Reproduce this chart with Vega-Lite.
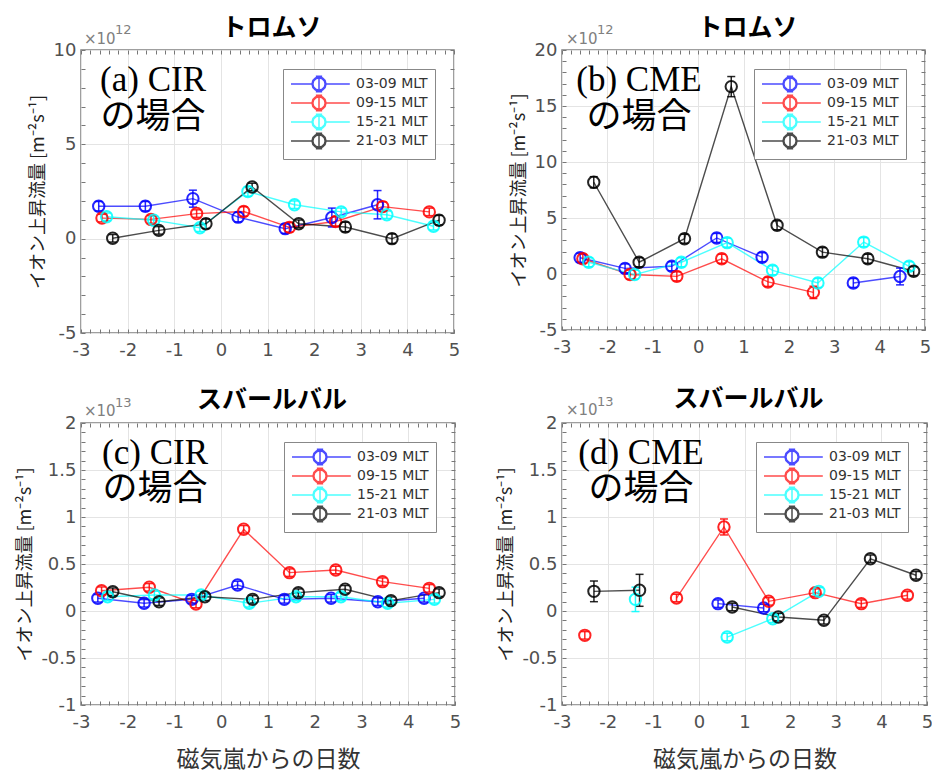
{
  "$schema": "https://vega.github.io/schema/vega-lite/v6.json",
  "background": "white",
  "padding": {"left": 16, "top": 15, "right": 0, "bottom": 0},
  "datasets": {
    "pts": [
      {"p":"a","g":"03-09 MLT","x":-2.62,"y":1.72,"e":0.25},
      {"p":"a","g":"03-09 MLT","x":-1.62,"y":1.72,"e":0.25},
      {"p":"a","g":"03-09 MLT","x":-0.6,"y":2.12,"e":0.45},
      {"p":"a","g":"03-09 MLT","x":0.37,"y":1.14,"e":0.25},
      {"p":"a","g":"03-09 MLT","x":1.38,"y":0.53,"e":0.25},
      {"p":"a","g":"03-09 MLT","x":2.38,"y":1.12,"e":0.5},
      {"p":"a","g":"03-09 MLT","x":3.36,"y":1.8,"e":0.75},
      {"p":"a","g":"09-15 MLT","x":-2.55,"y":1.09,"e":0.2},
      {"p":"a","g":"09-15 MLT","x":-1.5,"y":1.02,"e":0.2},
      {"p":"a","g":"09-15 MLT","x":-0.52,"y":1.33,"e":0.2},
      {"p":"a","g":"09-15 MLT","x":0.49,"y":1.44,"e":0.25},
      {"p":"a","g":"09-15 MLT","x":1.47,"y":0.6,"e":0.25},
      {"p":"a","g":"09-15 MLT","x":2.46,"y":0.91,"e":0.25},
      {"p":"a","g":"09-15 MLT","x":3.47,"y":1.7,"e":0.25},
      {"p":"a","g":"09-15 MLT","x":4.47,"y":1.42,"e":0.2},
      {"p":"a","g":"15-21 MLT","x":-2.45,"y":1.16,"e":0.2},
      {"p":"a","g":"15-21 MLT","x":-1.44,"y":0.98,"e":0.2},
      {"p":"a","g":"15-21 MLT","x":-0.45,"y":0.58,"e":0.2},
      {"p":"a","g":"15-21 MLT","x":0.58,"y":2.5,"e":0.25},
      {"p":"a","g":"15-21 MLT","x":1.58,"y":1.8,"e":0.2},
      {"p":"a","g":"15-21 MLT","x":2.58,"y":1.42,"e":0.2},
      {"p":"a","g":"15-21 MLT","x":3.56,"y":1.27,"e":0.2},
      {"p":"a","g":"15-21 MLT","x":4.56,"y":0.66,"e":0.2},
      {"p":"a","g":"21-03 MLT","x":-2.32,"y":0.02,"e":0.2},
      {"p":"a","g":"21-03 MLT","x":-1.33,"y":0.44,"e":0.2},
      {"p":"a","g":"21-03 MLT","x":-0.32,"y":0.79,"e":0.25},
      {"p":"a","g":"21-03 MLT","x":0.67,"y":2.74,"e":0.2},
      {"p":"a","g":"21-03 MLT","x":1.67,"y":0.79,"e":0.2},
      {"p":"a","g":"21-03 MLT","x":2.67,"y":0.62,"e":0.25},
      {"p":"a","g":"21-03 MLT","x":3.67,"y":0.0,"e":0.25},
      {"p":"a","g":"21-03 MLT","x":4.68,"y":0.98,"e":0.25},

      {"p":"b","g":"03-09 MLT","x":-2.6,"y":1.45,"e":0.4},
      {"p":"b","g":"03-09 MLT","x":-1.61,"y":0.5,"e":0.4},
      {"p":"b","g":"03-09 MLT","x":-0.58,"y":0.69,"e":0.4},
      {"p":"b","g":"03-09 MLT","x":0.41,"y":3.22,"e":0.4},
      {"p":"b","g":"03-09 MLT","x":1.41,"y":1.5,"e":0.4},
      {"p":"b","g":"03-09 MLT","x":2.41,"y":null,"e":null},
      {"p":"b","g":"03-09 MLT","x":3.42,"y":-0.8,"e":0.4},
      {"p":"b","g":"03-09 MLT","x":4.45,"y":-0.22,"e":0.75},
      {"p":"b","g":"09-15 MLT","x":-2.54,"y":1.36,"e":0.4},
      {"p":"b","g":"09-15 MLT","x":-1.5,"y":-0.05,"e":0.4},
      {"p":"b","g":"09-15 MLT","x":-0.47,"y":-0.21,"e":0.4},
      {"p":"b","g":"09-15 MLT","x":0.52,"y":1.36,"e":0.4},
      {"p":"b","g":"09-15 MLT","x":1.54,"y":-0.71,"e":0.4},
      {"p":"b","g":"09-15 MLT","x":2.54,"y":-1.64,"e":0.55},
      {"p":"b","g":"15-21 MLT","x":-2.41,"y":1.05,"e":0.4},
      {"p":"b","g":"15-21 MLT","x":-1.4,"y":-0.05,"e":0.4},
      {"p":"b","g":"15-21 MLT","x":-0.37,"y":1.05,"e":0.4},
      {"p":"b","g":"15-21 MLT","x":0.64,"y":2.8,"e":0.4},
      {"p":"b","g":"15-21 MLT","x":1.64,"y":0.33,"e":0.4},
      {"p":"b","g":"15-21 MLT","x":2.64,"y":-0.8,"e":0.4},
      {"p":"b","g":"15-21 MLT","x":3.65,"y":2.85,"e":0.4},
      {"p":"b","g":"15-21 MLT","x":4.65,"y":0.69,"e":0.4},
      {"p":"b","g":"21-03 MLT","x":-2.3,"y":8.19,"e":0.5},
      {"p":"b","g":"21-03 MLT","x":-1.3,"y":1.05,"e":0.4},
      {"p":"b","g":"21-03 MLT","x":-0.3,"y":3.15,"e":0.4},
      {"p":"b","g":"21-03 MLT","x":0.73,"y":16.73,"e":0.9},
      {"p":"b","g":"21-03 MLT","x":1.74,"y":4.35,"e":0.4},
      {"p":"b","g":"21-03 MLT","x":2.74,"y":1.95,"e":0.4},
      {"p":"b","g":"21-03 MLT","x":3.74,"y":1.36,"e":0.4},
      {"p":"b","g":"21-03 MLT","x":4.75,"y":0.25,"e":0.4},

      {"p":"c","g":"03-09 MLT","x":-2.64,"y":0.135,"e":0.04},
      {"p":"c","g":"03-09 MLT","x":-1.65,"y":0.082,"e":0.04},
      {"p":"c","g":"03-09 MLT","x":-0.63,"y":0.124,"e":0.04},
      {"p":"c","g":"03-09 MLT","x":0.35,"y":0.277,"e":0.04},
      {"p":"c","g":"03-09 MLT","x":1.35,"y":0.124,"e":0.04},
      {"p":"c","g":"03-09 MLT","x":2.35,"y":0.135,"e":0.04},
      {"p":"c","g":"03-09 MLT","x":3.35,"y":0.099,"e":0.04},
      {"p":"c","g":"03-09 MLT","x":4.34,"y":0.135,"e":0.04},
      {"p":"c","g":"09-15 MLT","x":-2.56,"y":0.216,"e":0.04},
      {"p":"c","g":"09-15 MLT","x":-1.54,"y":0.252,"e":0.04},
      {"p":"c","g":"09-15 MLT","x":-0.54,"y":0.074,"e":0.04},
      {"p":"c","g":"09-15 MLT","x":0.48,"y":0.869,"e":0.04},
      {"p":"c","g":"09-15 MLT","x":1.46,"y":0.408,"e":0.04},
      {"p":"c","g":"09-15 MLT","x":2.45,"y":0.436,"e":0.04},
      {"p":"c","g":"09-15 MLT","x":3.45,"y":0.312,"e":0.04},
      {"p":"c","g":"09-15 MLT","x":4.45,"y":0.241,"e":0.04},
      {"p":"c","g":"15-21 MLT","x":-2.43,"y":0.152,"e":0.04},
      {"p":"c","g":"15-21 MLT","x":-1.43,"y":0.17,"e":0.04},
      {"p":"c","g":"15-21 MLT","x":-0.43,"y":0.17,"e":0.04},
      {"p":"c","g":"15-21 MLT","x":0.6,"y":0.082,"e":0.04},
      {"p":"c","g":"15-21 MLT","x":1.6,"y":0.152,"e":0.04},
      {"p":"c","g":"15-21 MLT","x":2.56,"y":0.152,"e":0.04},
      {"p":"c","g":"15-21 MLT","x":3.56,"y":0.082,"e":0.04},
      {"p":"c","g":"15-21 MLT","x":4.56,"y":0.124,"e":0.04},
      {"p":"c","g":"21-03 MLT","x":-2.32,"y":0.205,"e":0.04},
      {"p":"c","g":"21-03 MLT","x":-1.33,"y":0.099,"e":0.04},
      {"p":"c","g":"21-03 MLT","x":-0.35,"y":0.152,"e":0.04},
      {"p":"c","g":"21-03 MLT","x":0.67,"y":0.124,"e":0.04},
      {"p":"c","g":"21-03 MLT","x":1.65,"y":0.195,"e":0.04},
      {"p":"c","g":"21-03 MLT","x":2.65,"y":0.231,"e":0.04},
      {"p":"c","g":"21-03 MLT","x":3.63,"y":0.11,"e":0.04},
      {"p":"c","g":"21-03 MLT","x":4.66,"y":0.195,"e":0.04},

      {"p":"d","g":"03-09 MLT","x":0.42,"y":0.078,"e":0.04},
      {"p":"d","g":"03-09 MLT","x":1.42,"y":0.032,"e":0.04},
      {"p":"d","g":"09-15 MLT","x":-2.5,"y":-0.259,"e":0.04},
      {"p":"d","g":"09-15 MLT","x":-1.5,"y":null,"e":null},
      {"p":"d","g":"09-15 MLT","x":-0.49,"y":0.138,"e":0.04},
      {"p":"d","g":"09-15 MLT","x":0.55,"y":0.894,"e":0.085},
      {"p":"d","g":"09-15 MLT","x":1.53,"y":0.103,"e":0.04},
      {"p":"d","g":"09-15 MLT","x":2.55,"y":0.195,"e":0.04},
      {"p":"d","g":"09-15 MLT","x":3.56,"y":0.078,"e":0.04},
      {"p":"d","g":"09-15 MLT","x":4.57,"y":0.167,"e":0.04},
      {"p":"d","g":"15-21 MLT","x":-1.39,"y":0.124,"e":0.13},
      {"p":"d","g":"15-21 MLT","x":-0.4,"y":null,"e":null},
      {"p":"d","g":"15-21 MLT","x":0.62,"y":-0.277,"e":0.04},
      {"p":"d","g":"15-21 MLT","x":1.62,"y":-0.082,"e":0.04},
      {"p":"d","g":"15-21 MLT","x":2.63,"y":0.209,"e":0.04},
      {"p":"d","g":"21-03 MLT","x":-2.3,"y":0.209,"e":0.11},
      {"p":"d","g":"21-03 MLT","x":-1.3,"y":0.22,"e":0.17},
      {"p":"d","g":"21-03 MLT","x":-0.3,"y":null,"e":null},
      {"p":"d","g":"21-03 MLT","x":0.73,"y":0.043,"e":0.04},
      {"p":"d","g":"21-03 MLT","x":1.74,"y":-0.064,"e":0.04},
      {"p":"d","g":"21-03 MLT","x":2.74,"y":-0.099,"e":0.04},
      {"p":"d","g":"21-03 MLT","x":3.76,"y":0.556,"e":0.04},
      {"p":"d","g":"21-03 MLT","x":4.76,"y":0.38,"e":0.04}
    ],
    "labels": [
      {"p":"a","t1":"(a) CIR","t2":"の場合","b":"×10","s":"12"},
      {"p":"b","t1":"(b) CME","t2":"の場合","b":"×10","s":"12"},
      {"p":"c","t1":"(c) CIR","t2":"の場合","b":"×10","s":"13"},
      {"p":"d","t1":"(d) CME","t2":"の場合","b":"×10","s":"13"}
    ]
  },
  "columns": 2,
  "spacing": {"row": 26, "column": 35},
  "resolve": {"scale": {"color": "independent"}, "legend": {"color": "independent"}},
  "concat": [
    {
      "width": 373, "height": 283,
      "title": {"text": "トロムソ", "offset": -17},
      "resolve": {"axis": {"x": "independent", "y": "independent"}},
      "layer": [
        {"data": {"name": "pts"}, "transform": [{"filter": "datum.p === 'a'"}],
         "mark": {"type": "line", "strokeWidth": 1.4, "opacity": 0.7, "invalid": "break-paths-filter-domains"},
         "encoding": {
           "x": {"field": "x", "type": "quantitative", "scale": {"domain": [-3, 5], "nice": false},
                 "axis": {"title": null, "values": [-3,-2.8,-2.6,-2.4,-2.2,-2,-1.8,-1.6,-1.4,-1.2,-1,-0.8,-0.6,-0.4,-0.2,0,0.2,0.4,0.6,0.8,1,1.2,1.4,1.6,1.8,2,2.2,2.4,2.6,2.8,3,3.2,3.4,3.6,3.8,4,4.2,4.4,4.6,4.8,5],
                          "labelExpr": "datum.value % 1 === 0 ? toString(datum.value) : ''",
                          "gridOpacity": {"condition": {"test": "datum.value % 1 === 0", "value": 1}, "value": 0}}},
           "y": {"field": "y", "type": "quantitative", "scale": {"domain": [-5, 10], "nice": false},
                 "axis": {"title": "イオン上昇流量 [m⁻²s⁻¹]", "values": [-5,-4,-3,-2,-1,0,1,2,3,4,5,6,7,8,9,10],
                          "labelExpr": "datum.value % 5 === 0 ? toString(datum.value) : ''",
                          "gridOpacity": {"condition": {"test": "datum.value % 5 === 0", "value": 1}, "value": 0}}},
           "color": {"field": "g", "type": "nominal", "scale": {"domain": ["03-09 MLT","09-15 MLT","15-21 MLT","21-03 MLT"], "range": ["#0000ff","#ff0000","#00ffff","#000000"]},
                     "legend": {"encode": {"symbols": {"update": {"fill": {"value": "transparent"}, "strokeWidth": {"value": 1.5}}}}}}
         }},
        {"data": {"name": "pts"}, "transform": [{"filter": "datum.p === 'a' && isValid(datum.y)"}],
         "mark": {"type": "errorbar", "ticks": {"size": 8}, "thickness": 1.5, "opacity": 0.85},
         "encoding": {
           "x": {"field": "x", "type": "quantitative", "axis": null},
           "y": {"field": "y", "type": "quantitative", "axis": null},
           "yError": {"field": "e"},
           "color": {"field": "g", "type": "nominal", "legend": null, "scale": {"domain": ["03-09 MLT","09-15 MLT","15-21 MLT","21-03 MLT"], "range": ["#0000ff","#ff0000","#00ffff","#000000"]}}
         }},
        {"data": {"name": "pts"}, "transform": [{"filter": "datum.p === 'a' && isValid(datum.y)"}],
         "mark": {"type": "point", "shape": "circle", "filled": false, "size": 130, "strokeWidth": 2, "opacity": 0.85},
         "encoding": {
           "x": {"field": "x", "type": "quantitative",
                 "axis": {"orient": "top", "labels": false, "grid": false, "title": null, "values": [-3,-2.8,-2.6,-2.4,-2.2,-2,-1.8,-1.6,-1.4,-1.2,-1,-0.8,-0.6,-0.4,-0.2,0,0.2,0.4,0.6,0.8,1,1.2,1.4,1.6,1.8,2,2.2,2.4,2.6,2.8,3,3.2,3.4,3.6,3.8,4,4.2,4.4,4.6,4.8,5]}},
           "y": {"field": "y", "type": "quantitative",
                 "axis": {"orient": "right", "labels": false, "grid": false, "title": null, "values": [-5,-4,-3,-2,-1,0,1,2,3,4,5,6,7,8,9,10]}},
           "color": {"field": "g", "type": "nominal", "scale": {"domain": ["03-09 MLT","09-15 MLT","15-21 MLT","21-03 MLT"], "range": ["#0000ff","#ff0000","#00ffff","#000000"]},
                     "legend": {"encode": {"symbols": {"update": {"fill": {"value": "transparent"}, "strokeWidth": {"value": 1.5}}}}}}
         }},
        {"data": {"name": "labels"}, "transform": [{"filter": "datum.p === 'a'"}],
         "mark": {"type": "text", "font": "Liberation Serif", "fontSize": 35, "align": "center", "baseline": "alphabetic", "dx": 72, "dy": 41, "color": "#000"},
         "encoding": {"x": {"datum": -3, "type": "quantitative", "axis": null}, "y": {"datum": 10, "type": "quantitative", "axis": null}, "text": {"field": "t1"}}},
        {"data": {"name": "labels"}, "transform": [{"filter": "datum.p === 'a'"}],
         "mark": {"type": "text", "font": "Noto Sans CJK JP", "fontWeight": "normal", "fontSize": 35, "align": "center", "baseline": "alphabetic", "dx": 72, "dy": 78, "color": "#000"},
         "encoding": {"x": {"datum": -3, "type": "quantitative", "axis": null}, "y": {"datum": 10, "type": "quantitative", "axis": null}, "text": {"field": "t2"}}},
        {"data": {"name": "labels"}, "transform": [{"filter": "datum.p === 'a'"}],
         "mark": {"type": "text", "font": "DejaVu Sans", "fontSize": 15, "align": "left", "baseline": "alphabetic", "dx": 3, "dy": -6, "color": "#808080"},
         "encoding": {"x": {"datum": -3, "type": "quantitative", "axis": null}, "y": {"datum": 10, "type": "quantitative", "axis": null}, "text": {"field": "b"}}},
        {"data": {"name": "labels"}, "transform": [{"filter": "datum.p === 'a'"}],
         "mark": {"type": "text", "font": "DejaVu Sans", "fontSize": 13, "align": "left", "baseline": "alphabetic", "dx": 34, "dy": -16, "color": "#808080"},
         "encoding": {"x": {"datum": -3, "type": "quantitative", "axis": null}, "y": {"datum": 10, "type": "quantitative", "axis": null}, "text": {"field": "s"}}}
      ]
    },
    {
      "width": 363, "height": 280,
      "title": {"text": "トロムソ", "offset": -17},
      "resolve": {"axis": {"x": "independent", "y": "independent"}},
      "layer": [
        {"data": {"name": "pts"}, "transform": [{"filter": "datum.p === 'b'"}],
         "mark": {"type": "line", "strokeWidth": 1.4, "opacity": 0.7, "invalid": "break-paths-filter-domains"},
         "encoding": {
           "x": {"field": "x", "type": "quantitative", "scale": {"domain": [-3, 5], "nice": false},
                 "axis": {"title": null, "values": [-3,-2.8,-2.6,-2.4,-2.2,-2,-1.8,-1.6,-1.4,-1.2,-1,-0.8,-0.6,-0.4,-0.2,0,0.2,0.4,0.6,0.8,1,1.2,1.4,1.6,1.8,2,2.2,2.4,2.6,2.8,3,3.2,3.4,3.6,3.8,4,4.2,4.4,4.6,4.8,5],
                          "labelExpr": "datum.value % 1 === 0 ? toString(datum.value) : ''",
                          "gridOpacity": {"condition": {"test": "datum.value % 1 === 0", "value": 1}, "value": 0}}},
           "y": {"field": "y", "type": "quantitative", "scale": {"domain": [-5, 20], "nice": false},
                 "axis": {"title": "イオン上昇流量 [m⁻²s⁻¹]", "values": [-5,-4,-3,-2,-1,0,1,2,3,4,5,6,7,8,9,10,11,12,13,14,15,16,17,18,19,20],
                          "labelExpr": "datum.value % 5 === 0 ? toString(datum.value) : ''",
                          "gridOpacity": {"condition": {"test": "datum.value % 5 === 0", "value": 1}, "value": 0}}},
           "color": {"field": "g", "type": "nominal", "scale": {"domain": ["03-09 MLT","09-15 MLT","15-21 MLT","21-03 MLT"], "range": ["#0000ff","#ff0000","#00ffff","#000000"]},
                     "legend": {"encode": {"symbols": {"update": {"fill": {"value": "transparent"}, "strokeWidth": {"value": 1.5}}}}}}
         }},
        {"data": {"name": "pts"}, "transform": [{"filter": "datum.p === 'b' && isValid(datum.y)"}],
         "mark": {"type": "errorbar", "ticks": {"size": 8}, "thickness": 1.5, "opacity": 0.85},
         "encoding": {
           "x": {"field": "x", "type": "quantitative", "axis": null},
           "y": {"field": "y", "type": "quantitative", "axis": null},
           "yError": {"field": "e"},
           "color": {"field": "g", "type": "nominal", "legend": null, "scale": {"domain": ["03-09 MLT","09-15 MLT","15-21 MLT","21-03 MLT"], "range": ["#0000ff","#ff0000","#00ffff","#000000"]}}
         }},
        {"data": {"name": "pts"}, "transform": [{"filter": "datum.p === 'b' && isValid(datum.y)"}],
         "mark": {"type": "point", "shape": "circle", "filled": false, "size": 130, "strokeWidth": 2, "opacity": 0.85},
         "encoding": {
           "x": {"field": "x", "type": "quantitative",
                 "axis": {"orient": "top", "labels": false, "grid": false, "title": null, "values": [-3,-2.8,-2.6,-2.4,-2.2,-2,-1.8,-1.6,-1.4,-1.2,-1,-0.8,-0.6,-0.4,-0.2,0,0.2,0.4,0.6,0.8,1,1.2,1.4,1.6,1.8,2,2.2,2.4,2.6,2.8,3,3.2,3.4,3.6,3.8,4,4.2,4.4,4.6,4.8,5]}},
           "y": {"field": "y", "type": "quantitative",
                 "axis": {"orient": "right", "labels": false, "grid": false, "title": null, "values": [-5,-4,-3,-2,-1,0,1,2,3,4,5,6,7,8,9,10,11,12,13,14,15,16,17,18,19,20]}},
           "color": {"field": "g", "type": "nominal", "scale": {"domain": ["03-09 MLT","09-15 MLT","15-21 MLT","21-03 MLT"], "range": ["#0000ff","#ff0000","#00ffff","#000000"]},
                     "legend": {"encode": {"symbols": {"update": {"fill": {"value": "transparent"}, "strokeWidth": {"value": 1.5}}}}}}
         }},
        {"data": {"name": "labels"}, "transform": [{"filter": "datum.p === 'b'"}],
         "mark": {"type": "text", "font": "Liberation Serif", "fontSize": 35, "align": "center", "baseline": "alphabetic", "dx": 77, "dy": 41, "color": "#000"},
         "encoding": {"x": {"datum": -3, "type": "quantitative", "axis": null}, "y": {"datum": 20, "type": "quantitative", "axis": null}, "text": {"field": "t1"}}},
        {"data": {"name": "labels"}, "transform": [{"filter": "datum.p === 'b'"}],
         "mark": {"type": "text", "font": "Noto Sans CJK JP", "fontWeight": "normal", "fontSize": 35, "align": "center", "baseline": "alphabetic", "dx": 77, "dy": 78, "color": "#000"},
         "encoding": {"x": {"datum": -3, "type": "quantitative", "axis": null}, "y": {"datum": 20, "type": "quantitative", "axis": null}, "text": {"field": "t2"}}},
        {"data": {"name": "labels"}, "transform": [{"filter": "datum.p === 'b'"}],
         "mark": {"type": "text", "font": "DejaVu Sans", "fontSize": 15, "align": "left", "baseline": "alphabetic", "dx": 4, "dy": -6, "color": "#808080"},
         "encoding": {"x": {"datum": -3, "type": "quantitative", "axis": null}, "y": {"datum": 20, "type": "quantitative", "axis": null}, "text": {"field": "b"}}},
        {"data": {"name": "labels"}, "transform": [{"filter": "datum.p === 'b'"}],
         "mark": {"type": "text", "font": "DejaVu Sans", "fontSize": 13, "align": "left", "baseline": "alphabetic", "dx": 35, "dy": -16, "color": "#808080"},
         "encoding": {"x": {"datum": -3, "type": "quantitative", "axis": null}, "y": {"datum": 20, "type": "quantitative", "axis": null}, "text": {"field": "s"}}}
      ]
    },
    {
      "width": 374, "height": 282,
      "title": {"text": "スバールバル", "offset": -16},
      "resolve": {"axis": {"x": "independent", "y": "independent"}},
      "layer": [
        {"data": {"name": "pts"}, "transform": [{"filter": "datum.p === 'c'"}],
         "mark": {"type": "line", "strokeWidth": 1.4, "opacity": 0.7, "invalid": "break-paths-filter-domains"},
         "encoding": {
           "x": {"field": "x", "type": "quantitative", "scale": {"domain": [-3, 5], "nice": false},
                 "axis": {"title": "磁気嵐からの日数", "titleFontSize": 23, "titleColor": "#333", "titlePadding": 17, "values": [-3,-2.8,-2.6,-2.4,-2.2,-2,-1.8,-1.6,-1.4,-1.2,-1,-0.8,-0.6,-0.4,-0.2,0,0.2,0.4,0.6,0.8,1,1.2,1.4,1.6,1.8,2,2.2,2.4,2.6,2.8,3,3.2,3.4,3.6,3.8,4,4.2,4.4,4.6,4.8,5],
                          "labelExpr": "datum.value % 1 === 0 ? toString(datum.value) : ''",
                          "gridOpacity": {"condition": {"test": "datum.value % 1 === 0", "value": 1}, "value": 0}}},
           "y": {"field": "y", "type": "quantitative", "scale": {"domain": [-1, 2], "nice": false},
                 "axis": {"title": "イオン上昇流量 [m⁻²s⁻¹]", "values": [-1,-0.9,-0.8,-0.7,-0.6,-0.5,-0.4,-0.3,-0.2,-0.1,0,0.1,0.2,0.3,0.4,0.5,0.6,0.7,0.8,0.9,1,1.1,1.2,1.3,1.4,1.5,1.6,1.7,1.8,1.9,2],
                          "labelExpr": "abs(datum.value * 2 - round(datum.value * 2)) < 0.001 ? toString(datum.value) : ''",
                          "gridOpacity": {"condition": {"test": "abs(datum.value * 2 - round(datum.value * 2)) < 0.001", "value": 1}, "value": 0}}},
           "color": {"field": "g", "type": "nominal", "scale": {"domain": ["03-09 MLT","09-15 MLT","15-21 MLT","21-03 MLT"], "range": ["#0000ff","#ff0000","#00ffff","#000000"]},
                     "legend": {"encode": {"symbols": {"update": {"fill": {"value": "transparent"}, "strokeWidth": {"value": 1.5}}}}}}
         }},
        {"data": {"name": "pts"}, "transform": [{"filter": "datum.p === 'c' && isValid(datum.y)"}],
         "mark": {"type": "errorbar", "ticks": {"size": 8}, "thickness": 1.5, "opacity": 0.85},
         "encoding": {
           "x": {"field": "x", "type": "quantitative", "axis": null},
           "y": {"field": "y", "type": "quantitative", "axis": null},
           "yError": {"field": "e"},
           "color": {"field": "g", "type": "nominal", "legend": null, "scale": {"domain": ["03-09 MLT","09-15 MLT","15-21 MLT","21-03 MLT"], "range": ["#0000ff","#ff0000","#00ffff","#000000"]}}
         }},
        {"data": {"name": "pts"}, "transform": [{"filter": "datum.p === 'c' && isValid(datum.y)"}],
         "mark": {"type": "point", "shape": "circle", "filled": false, "size": 130, "strokeWidth": 2, "opacity": 0.85},
         "encoding": {
           "x": {"field": "x", "type": "quantitative",
                 "axis": {"orient": "top", "labels": false, "grid": false, "title": null, "values": [-3,-2.8,-2.6,-2.4,-2.2,-2,-1.8,-1.6,-1.4,-1.2,-1,-0.8,-0.6,-0.4,-0.2,0,0.2,0.4,0.6,0.8,1,1.2,1.4,1.6,1.8,2,2.2,2.4,2.6,2.8,3,3.2,3.4,3.6,3.8,4,4.2,4.4,4.6,4.8,5]}},
           "y": {"field": "y", "type": "quantitative",
                 "axis": {"orient": "right", "labels": false, "grid": false, "title": null, "values": [-1,-0.9,-0.8,-0.7,-0.6,-0.5,-0.4,-0.3,-0.2,-0.1,0,0.1,0.2,0.3,0.4,0.5,0.6,0.7,0.8,0.9,1,1.1,1.2,1.3,1.4,1.5,1.6,1.7,1.8,1.9,2]}},
           "color": {"field": "g", "type": "nominal", "scale": {"domain": ["03-09 MLT","09-15 MLT","15-21 MLT","21-03 MLT"], "range": ["#0000ff","#ff0000","#00ffff","#000000"]},
                     "legend": {"encode": {"symbols": {"update": {"fill": {"value": "transparent"}, "strokeWidth": {"value": 1.5}}}}}}
         }},
        {"data": {"name": "labels"}, "transform": [{"filter": "datum.p === 'c'"}],
         "mark": {"type": "text", "font": "Liberation Serif", "fontSize": 35, "align": "center", "baseline": "alphabetic", "dx": 74, "dy": 41, "color": "#000"},
         "encoding": {"x": {"datum": -3, "type": "quantitative", "axis": null}, "y": {"datum": 2, "type": "quantitative", "axis": null}, "text": {"field": "t1"}}},
        {"data": {"name": "labels"}, "transform": [{"filter": "datum.p === 'c'"}],
         "mark": {"type": "text", "font": "Noto Sans CJK JP", "fontWeight": "normal", "fontSize": 35, "align": "center", "baseline": "alphabetic", "dx": 74, "dy": 77, "color": "#000"},
         "encoding": {"x": {"datum": -3, "type": "quantitative", "axis": null}, "y": {"datum": 2, "type": "quantitative", "axis": null}, "text": {"field": "t2"}}},
        {"data": {"name": "labels"}, "transform": [{"filter": "datum.p === 'c'"}],
         "mark": {"type": "text", "font": "DejaVu Sans", "fontSize": 15, "align": "left", "baseline": "alphabetic", "dx": 3, "dy": -7, "color": "#808080"},
         "encoding": {"x": {"datum": -3, "type": "quantitative", "axis": null}, "y": {"datum": 2, "type": "quantitative", "axis": null}, "text": {"field": "b"}}},
        {"data": {"name": "labels"}, "transform": [{"filter": "datum.p === 'c'"}],
         "mark": {"type": "text", "font": "DejaVu Sans", "fontSize": 13, "align": "left", "baseline": "alphabetic", "dx": 34, "dy": -16, "color": "#808080"},
         "encoding": {"x": {"datum": -3, "type": "quantitative", "axis": null}, "y": {"datum": 2, "type": "quantitative", "axis": null}, "text": {"field": "s"}}}
      ]
    },
    {
      "width": 365, "height": 282,
      "title": {"text": "スバールバル", "offset": -16},
      "resolve": {"axis": {"x": "independent", "y": "independent"}},
      "layer": [
        {"data": {"name": "pts"}, "transform": [{"filter": "datum.p === 'd'"}],
         "mark": {"type": "line", "strokeWidth": 1.4, "opacity": 0.7, "invalid": "break-paths-filter-domains"},
         "encoding": {
           "x": {"field": "x", "type": "quantitative", "scale": {"domain": [-3, 5], "nice": false},
                 "axis": {"title": "磁気嵐からの日数", "titleFontSize": 23, "titleColor": "#333", "titlePadding": 17, "values": [-3,-2.8,-2.6,-2.4,-2.2,-2,-1.8,-1.6,-1.4,-1.2,-1,-0.8,-0.6,-0.4,-0.2,0,0.2,0.4,0.6,0.8,1,1.2,1.4,1.6,1.8,2,2.2,2.4,2.6,2.8,3,3.2,3.4,3.6,3.8,4,4.2,4.4,4.6,4.8,5],
                          "labelExpr": "datum.value % 1 === 0 ? toString(datum.value) : ''",
                          "gridOpacity": {"condition": {"test": "datum.value % 1 === 0", "value": 1}, "value": 0}}},
           "y": {"field": "y", "type": "quantitative", "scale": {"domain": [-1, 2], "nice": false},
                 "axis": {"title": "イオン上昇流量 [m⁻²s⁻¹]", "values": [-1,-0.9,-0.8,-0.7,-0.6,-0.5,-0.4,-0.3,-0.2,-0.1,0,0.1,0.2,0.3,0.4,0.5,0.6,0.7,0.8,0.9,1,1.1,1.2,1.3,1.4,1.5,1.6,1.7,1.8,1.9,2],
                          "labelExpr": "abs(datum.value * 2 - round(datum.value * 2)) < 0.001 ? toString(datum.value) : ''",
                          "gridOpacity": {"condition": {"test": "abs(datum.value * 2 - round(datum.value * 2)) < 0.001", "value": 1}, "value": 0}}},
           "color": {"field": "g", "type": "nominal", "scale": {"domain": ["03-09 MLT","09-15 MLT","15-21 MLT","21-03 MLT"], "range": ["#0000ff","#ff0000","#00ffff","#000000"]},
                     "legend": {"encode": {"symbols": {"update": {"fill": {"value": "transparent"}, "strokeWidth": {"value": 1.5}}}}}}
         }},
        {"data": {"name": "pts"}, "transform": [{"filter": "datum.p === 'd' && isValid(datum.y)"}],
         "mark": {"type": "errorbar", "ticks": {"size": 8}, "thickness": 1.5, "opacity": 0.85},
         "encoding": {
           "x": {"field": "x", "type": "quantitative", "axis": null},
           "y": {"field": "y", "type": "quantitative", "axis": null},
           "yError": {"field": "e"},
           "color": {"field": "g", "type": "nominal", "legend": null, "scale": {"domain": ["03-09 MLT","09-15 MLT","15-21 MLT","21-03 MLT"], "range": ["#0000ff","#ff0000","#00ffff","#000000"]}}
         }},
        {"data": {"name": "pts"}, "transform": [{"filter": "datum.p === 'd' && isValid(datum.y)"}],
         "mark": {"type": "point", "shape": "circle", "filled": false, "size": 130, "strokeWidth": 2, "opacity": 0.85},
         "encoding": {
           "x": {"field": "x", "type": "quantitative",
                 "axis": {"orient": "top", "labels": false, "grid": false, "title": null, "values": [-3,-2.8,-2.6,-2.4,-2.2,-2,-1.8,-1.6,-1.4,-1.2,-1,-0.8,-0.6,-0.4,-0.2,0,0.2,0.4,0.6,0.8,1,1.2,1.4,1.6,1.8,2,2.2,2.4,2.6,2.8,3,3.2,3.4,3.6,3.8,4,4.2,4.4,4.6,4.8,5]}},
           "y": {"field": "y", "type": "quantitative",
                 "axis": {"orient": "right", "labels": false, "grid": false, "title": null, "values": [-1,-0.9,-0.8,-0.7,-0.6,-0.5,-0.4,-0.3,-0.2,-0.1,0,0.1,0.2,0.3,0.4,0.5,0.6,0.7,0.8,0.9,1,1.1,1.2,1.3,1.4,1.5,1.6,1.7,1.8,1.9,2]}},
           "color": {"field": "g", "type": "nominal", "scale": {"domain": ["03-09 MLT","09-15 MLT","15-21 MLT","21-03 MLT"], "range": ["#0000ff","#ff0000","#00ffff","#000000"]},
                     "legend": {"encode": {"symbols": {"update": {"fill": {"value": "transparent"}, "strokeWidth": {"value": 1.5}}}}}}
         }},
        {"data": {"name": "labels"}, "transform": [{"filter": "datum.p === 'd'"}],
         "mark": {"type": "text", "font": "Liberation Serif", "fontSize": 35, "align": "center", "baseline": "alphabetic", "dx": 79, "dy": 41, "color": "#000"},
         "encoding": {"x": {"datum": -3, "type": "quantitative", "axis": null}, "y": {"datum": 2, "type": "quantitative", "axis": null}, "text": {"field": "t1"}}},
        {"data": {"name": "labels"}, "transform": [{"filter": "datum.p === 'd'"}],
         "mark": {"type": "text", "font": "Noto Sans CJK JP", "fontWeight": "normal", "fontSize": 35, "align": "center", "baseline": "alphabetic", "dx": 79, "dy": 77, "color": "#000"},
         "encoding": {"x": {"datum": -3, "type": "quantitative", "axis": null}, "y": {"datum": 2, "type": "quantitative", "axis": null}, "text": {"field": "t2"}}},
        {"data": {"name": "labels"}, "transform": [{"filter": "datum.p === 'd'"}],
         "mark": {"type": "text", "font": "DejaVu Sans", "fontSize": 15, "align": "left", "baseline": "alphabetic", "dx": 4, "dy": -8, "color": "#808080"},
         "encoding": {"x": {"datum": -3, "type": "quantitative", "axis": null}, "y": {"datum": 2, "type": "quantitative", "axis": null}, "text": {"field": "b"}}},
        {"data": {"name": "labels"}, "transform": [{"filter": "datum.p === 'd'"}],
         "mark": {"type": "text", "font": "DejaVu Sans", "fontSize": 13, "align": "left", "baseline": "alphabetic", "dx": 35, "dy": -17, "color": "#808080"},
         "encoding": {"x": {"datum": -3, "type": "quantitative", "axis": null}, "y": {"datum": 2, "type": "quantitative", "axis": null}, "text": {"field": "s"}}}
      ]
    }
  ],
  "config": {
    "view": {"stroke": "#808080", "strokeWidth": 1.5},
    "title": {"font": "Noto Sans CJK JP", "fontSize": 25, "fontWeight": "bold", "color": "#000", "frame": "group", "anchor": "middle", "dx": 4},
    "axis": {
      "ticks": true, "tickSize": -4, "tickColor": "#777", "tickWidth": 1, "domain": false,
      "labelFont": "DejaVu Sans", "labelFontSize": 18, "labelColor": "#505050",
      "labelOverlap": false, "labelFlush": false, "labelBound": false,
      "gridColor": "#e4e4e4", "gridWidth": 1,
      "titleFont": "Noto Sans CJK JP", "titleFontSize": 18, "titleFontWeight": "normal", "titleColor": "#222"
    },
    "axisX": {"labelPadding": 12},
    "axisY": {"labelPadding": 9, "titlePadding": 6},
    "legend": {
      "orient": "top-right", "offset": 19, "title": null, "padding": 7,
      "fillColor": "white", "strokeColor": "#888",
      "labelFont": "DejaVu Sans", "labelFontSize": 14, "labelColor": "#333",
      "symbolType": "M-1,0L2,0M4,0L7.4,0M4,0L3.866,0.5L3.5,0.866L3,1L2.5,0.866L2.134,0.5L2,0L2.134,-0.5L2.5,-0.866L3,-1L3.5,-0.866L3.866,-0.5Z M3.88,0L3.762,-0.44L3.44,-0.762L3,-0.88L2.56,-0.762L2.238,-0.44L2.12,0L2.238,0.44L2.56,0.762L3,0.88L3.44,0.762L3.762,0.44Z M3,-1.1L3,1.1M2.55,-1.1L3.45,-1.1M2.55,1.1L3.45,1.1",
      "symbolSize": 196, "symbolStrokeWidth": 1.5, "symbolFillColor": "transparent",
      "labelOffset": 50, "rowPadding": -8
    }
  }
}
